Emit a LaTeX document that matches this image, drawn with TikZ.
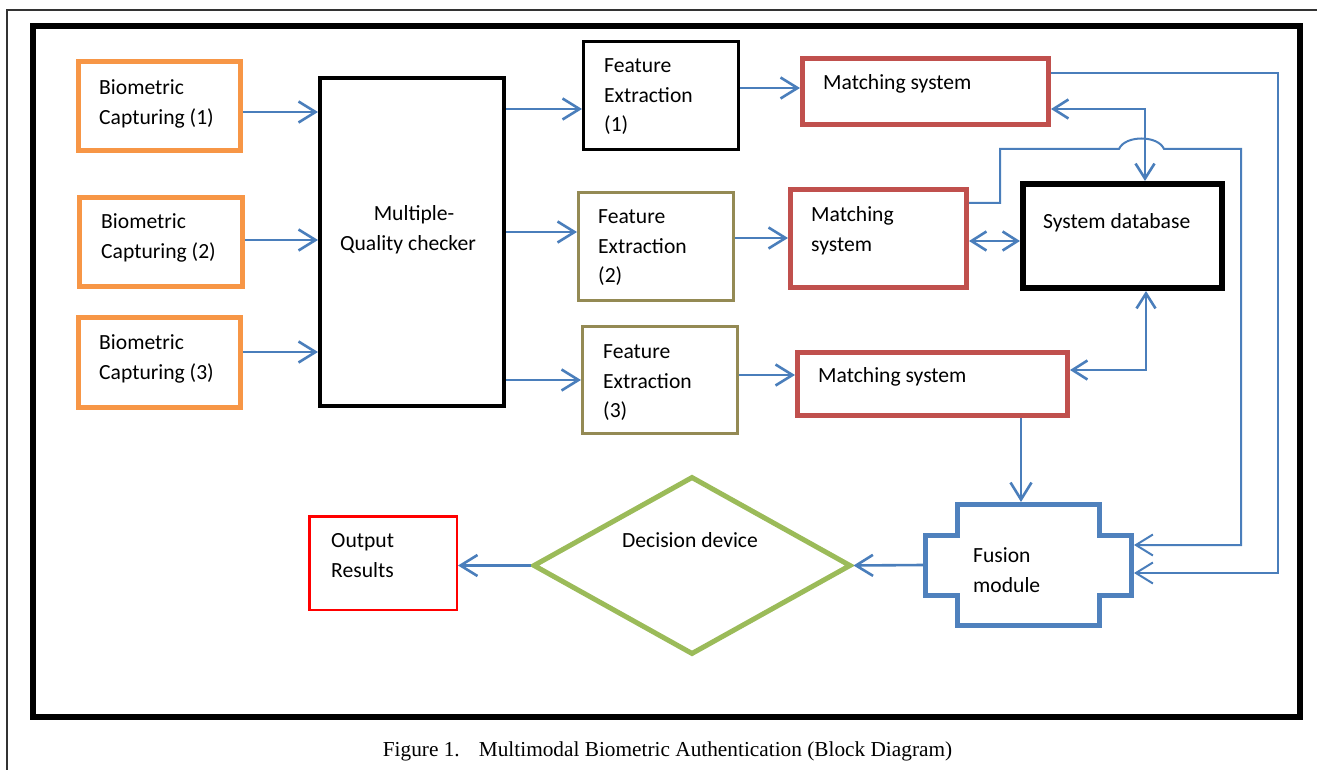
\documentclass[tikz,border=0pt]{standalone}
\usepackage{fontspec}
\setmainfont{Carlito}
\newfontfamily\captionfont{Liberation Serif}
\usetikzlibrary{arrows.meta,shapes.geometric}
\definecolor{capOrange}{HTML}{F79646}
\definecolor{featOlive}{HTML}{948A54}
\definecolor{matchRed}{HTML}{C0504D}
\definecolor{fusionBlue}{HTML}{4F81BD}
\definecolor{decGreen}{HTML}{9BBB59}
\definecolor{linkBlue}{HTML}{4A7EBB}

\begin{document}
\begin{tikzpicture}[x=1pt,y=-1pt,
		txt/.style={anchor=north west, inner sep=0pt, align=left, font=\fontsize{21.6}{29.5}\selectfont},
		box/.style={draw, rectangle, inner sep=0pt},
		capbox/.style={box, draw=capOrange, line width=5pt, minimum width=162pt, minimum height=89pt},
		featbox/.style={box, line width=3pt, minimum width=155pt, minimum height=108pt},
		matchbox/.style={box, draw=matchRed, line width=5pt},
		link/.style={draw=linkBlue, line width=2.6pt, -{Straight Barb[length=17pt,width=21pt]}},
		duplink/.style={link, {Straight Barb[length=15pt,width=19pt]}-{Straight Barb[length=15pt,width=19pt]}},
		bus/.style={link, line width=2pt}]
			%%%%% START %%%%%
			\useasboundingbox (0,0) rectangle (1317,770);
			
			% frames
			\draw[line width=1.5pt, black!80] (7,770) -- (7,10) -- (1317,10);
			\draw[line width=6pt] (33,26) rectangle (1300,717);
			
			% capturing
			\node[capbox] (cap1) at (159.5,106) {};
			\node[capbox, minimum width=163pt] (cap2) at (161,242) {};
			\node[capbox, minimum height=90pt] (cap3) at (159.5,362.5) {};
			\node[txt] (cap1-t) at (99,79.5) {Biometric\\Capturing (1)};
			\node[txt] (cap2-t) at (101,213.5) {Biometric\\Capturing (2)};
			\node[txt] (cap3-t) at (99,334.5) {Biometric\\Capturing (3)};
			
			% quality checker
			\node[box, line width=4pt, minimum width=184pt, minimum height=328pt] (checker) at (412,242) {};
			\node[txt, anchor=north, align=center] (checker-t) at (408,205.5) {\hspace*{12pt}Multiple-\\Quality checker};
			
			% feature extraction
			\node[featbox] (feat1) at (661,95.5) {};
			\node[featbox, draw=featOlive] (feat2) at (656,246.5) {};
			\node[featbox, draw=featOlive, minimum height=107pt] (feat3) at (660,380) {};
			\node[txt] (feat1-t) at (604,58.5) {Feature\\Extraction\\(1)};
			\node[txt] (feat2-t) at (598,209.5) {Feature\\Extraction\\(2)};
			\node[txt] (feat3-t) at (603,344.5) {Feature\\Extraction\\(3)};
			
			% matching
			\node[matchbox, minimum width=246pt, minimum height=66pt] (match1) at (925.5,91.5) {};
			\node[matchbox, minimum width=176pt, minimum height=98pt] (match2) at (878.5,238.5) {};
			\node[matchbox, minimum width=270pt, minimum height=63pt] (match3) at (932.5,384) {};
			\node[txt] (match1-t) at (823,74.5) {Matching system};
			\node[txt] (match2-t) at (811,206.5) {Matching\\system};
			\node[txt] (match3-t) at (818,367.5) {Matching system};
			
			% database
			\node[box, line width=6pt, minimum width=199pt, minimum height=104pt] (db) at (1122.5,236) {};
			\node[txt] (db-t) at (1043,213.5) {System database};
			
			% fusion
			\node[inner sep=0pt, outer sep=2.5pt, minimum width=206pt, minimum height=121pt] (fusion) at (1028.5,565) {};
			\draw[fusionBlue, line width=5pt] (957.5,504.5) -- (1099.5,504.5) -- (1099.5,535.5) -- (1131.5,535.5) -- (1131.5,595.5)
				-- (1099.5,595.5) -- (1099.5,625.5) -- (957.5,625.5) -- (957.5,595.5) -- (925.5,595.5) -- (925.5,535.5) -- (957.5,535.5) -- cycle;
			\node[txt] (fusion-t) at (973,547.5) {Fusion\\module};
			
			% decision
			\node[diamond, draw=decGreen, line width=5pt, inner sep=0pt, minimum width=318pt, minimum height=178pt] (decision) at (692,565.5) {};
			\node[txt, anchor=north] (decision-t) at (690,532.5) {Decision device};
			
			% output
			\node[box, draw=red, line width=2.5pt, minimum width=147.5pt, minimum height=93.5pt] (output) at (383,563) {};
			\node[txt] (output-t) at (331,533.5) {Output\\Results};
			
			% capturing -> checker -> feature -> matching
			\draw[link] (cap1.east |- 0,112) -- (checker.west |- 0,112);
			\draw[link] (cap2.east |- 0,240) -- (checker.west |- 0,240);
			\draw[link] (cap3.east |- 0,352) -- (checker.west |- 0,352);
			\draw[link] (checker.east |- 0,109) -- (feat1.west |- 0,109);
			\draw[link] (checker.east |- 0,232) -- (feat2.west |- 0,232);
			\draw[link] (checker.east |- 0,380) -- (feat3.west |- 0,380);
			\draw[link] (feat1.east |- 0,88) -- (match1.west |- 0,88);
			\draw[link] (feat2.east |- 0,238) -- (match2.west |- 0,238);
			\draw[link] (feat3.east |- 0,375) -- (match3.west |- 0,375);
			
			% matching <-> database
			\coordinate (db-n) at (1145,109);
			\coordinate (db-s) at (1146,370);
			\draw[duplink] (match1.east |- db-n) -- (db-n) -- (db.north -| db-n);
			\draw[duplink] (match2.east |- 0,241) -- (db.west |- 0,241);
			\draw[duplink] (match3.east |- db-s) -- (db-s) -- (db.south -| db-s);
			
			% matching -> fusion
			\coordinate (bus1-top) at (1278,73);
			\coordinate (bus1-bot) at (1278,573);
			\draw[bus] (match1.east |- bus1-top) -- (bus1-top) -- (bus1-bot) -- (fusion.east |- bus1-bot);
			\coordinate (bus2-a) at (1000,203);
			\coordinate (bus2-b) at (1000,149);
			\coordinate (hop-l) at (1119,149);
			\coordinate (hop-r) at (1164,149);
			\coordinate (bus2-c) at (1241,149);
			\coordinate (bus2-d) at (1241,545);
			\draw[bus] (match2.east |- bus2-a) -- (bus2-a) -- (bus2-b) -- (hop-l) .. controls (1125,135) and (1158,135) .. (hop-r)
				-- (bus2-c) -- (bus2-d) -- (fusion.east |- bus2-d);
			\draw[link] (match3.south -| 1021,0) -- (fusion.north -| 1021,0);
			
			% fusion -> decision -> output
			\draw[link] (fusion.west) -- (decision.east);
			\draw[link] (decision.west) -- (decision.west -| output.east);
			
			% caption
			\node[anchor=base, inner sep=0pt, font=\captionfont\fontsize{21.3}{24}\selectfont] (caption) at (667.5,756)
				{Figure 1.\hspace{0.9em}Multimodal Biometric Authentication (Block Diagram)};
			%%%%% END %%%%%
		\end{tikzpicture}
\end{document}
